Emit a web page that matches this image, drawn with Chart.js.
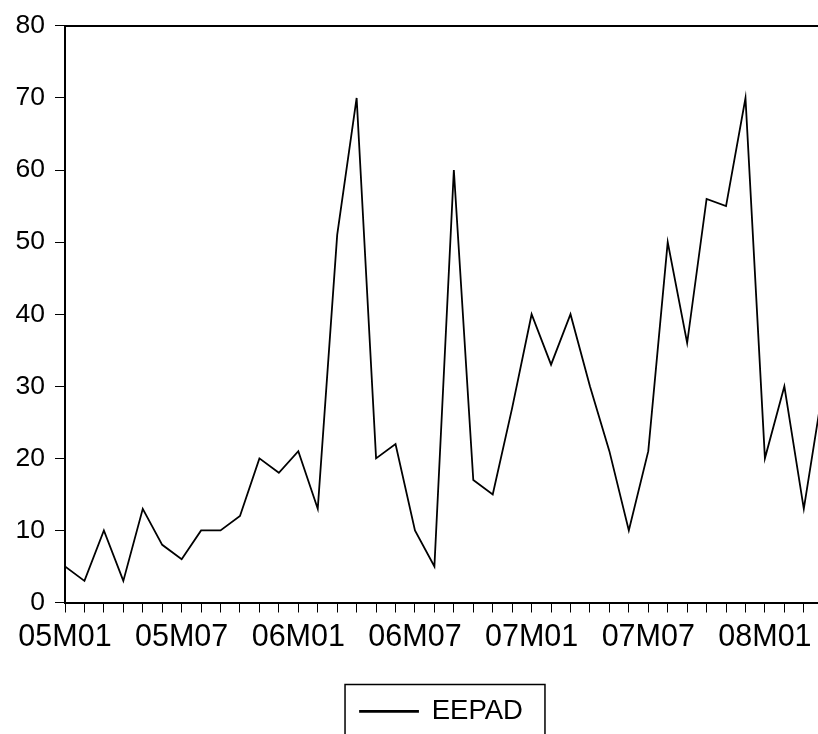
<!DOCTYPE html>
<html>
<head>
<meta charset="utf-8">
<script src="https://cdn.jsdelivr.net/npm/chart.js@4/dist/chart.umd.min.js"></script>
<style>
  html, body { margin: 0; padding: 0; background: #fff; overflow: hidden; }
  #c { display: block; }
</style>
</head>
<body>
<canvas id="c" width="818" height="734"></canvas>
<script>
// ---- data ----
const months = [
  '05M01','05M02','05M03','05M04','05M05','05M06','05M07','05M08','05M09','05M10','05M11','05M12',
  '06M01','06M02','06M03','06M04','06M05','06M06','06M07','06M08','06M09','06M10','06M11','06M12',
  '07M01','07M02','07M03','07M04','07M05','07M06','07M07','07M08','07M09','07M10','07M11','07M12',
  '08M01','08M02','08M03','08M04'
];
const eepad = [
  5, 3, 10, 3, 13, 8, 6, 10, 10, 12, 20, 18,
  21, 13, 51, 70, 20, 22, 10, 5, 60, 17, 15, 27,
  40, 33, 40, 30, 21, 10, 21, 50, 36, 56, 55, 70,
  20, 30, 13, 30
];
const xTickLabels = ['05M01','05M07','06M01','06M07','07M01','07M07','08M01'];
const yTicks = [0, 10, 20, 30, 40, 50, 60, 70, 80];
const seriesName = 'EEPAD';

const points = eepad.map((v, i) => ({ x: i, y: v }));

const frameTop = {
  id: 'frameTop',
  afterDraw(chart) {
    const { ctx, chartArea } = chart;
    ctx.save();
    ctx.strokeStyle = '#000';
    ctx.lineWidth = 2;
    ctx.beginPath();
    ctx.moveTo(chartArea.left, chartArea.top);
    ctx.lineTo(chartArea.right, chartArea.top);
    ctx.stroke();
    // legend frame
    const lg = chart.legend;
    if (lg && lg.legendHitBoxes && lg.legendHitBoxes.length) {
      const hb = lg.legendHitBoxes[0];
      const cy = hb.top + hb.height / 2;
      const l = hb.left - 15, r = hb.left + hb.width + 22, t = cy - 27, b = chart.height + 5;
      ctx.lineWidth = 1.5;
      ctx.beginPath();
      ctx.moveTo(l, b); ctx.lineTo(l, t); ctx.lineTo(r, t); ctx.lineTo(r, b);
      ctx.stroke();
    }
    ctx.restore();
  }
};

new Chart(document.getElementById('c'), {
  type: 'line',
  data: {
    datasets: [{
      label: seriesName,
      data: points,
      borderColor: '#000',
      backgroundColor: '#000',
      borderWidth: 1.8,
      pointRadius: 0,
      tension: 0
    }]
  },
  options: {
    responsive: false,
    animation: false,
    layout: { padding: { top: 25, right: 0, left: 0, bottom: -1.2 } },
    plugins: {
      tooltip: { enabled: false },
      legend: {
        position: 'bottom',
        fullSize: false,
        labels: {
          color: '#000',
          font: { family: 'Liberation Sans, Arial, sans-serif', size: 27.5 },
          boxWidth: 58,
          boxHeight: 1,
          padding: 10
        }
      }
    },
    scales: {
      x: {
        type: 'linear',
        min: 0,
        max: 38.73,
        afterFit(s) { s.height = 85.2; },
        border: { display: true, color: '#000', width: 2 },
        grid: { display: true, drawOnChartArea: false, drawTicks: true, tickLength: 10, color: '#000', lineWidth: 1 },
        ticks: {
          stepSize: 1,
          autoSkip: false,
          includeBounds: false,
          maxRotation: 0,
          minRotation: 0,
          padding: 7,
          color: '#000',
          font: { family: 'Liberation Sans, Arial, sans-serif', size: 30.5 },
          callback(v) {
            const lab = months[v];
            return xTickLabels.includes(lab) ? lab : '';
          }
        }
      },
      y: {
        min: yTicks[0],
        max: yTicks[yTicks.length - 1],
        afterFit(s) { s.width = 65; },
        afterBuildTicks(s) { s.ticks = yTicks.map(v => ({ value: v })); },
        border: { display: true, color: '#000', width: 2 },
        grid: { display: true, drawOnChartArea: false, drawTicks: true, tickLength: 10, color: '#000', lineWidth: 1 },
        ticks: {
          padding: 10,
          color: '#000',
          font: { family: 'Liberation Sans, Arial, sans-serif', size: 26.5 }
        }
      }
    }
  },
  plugins: [frameTop]
});
</script>
</body>
</html>
